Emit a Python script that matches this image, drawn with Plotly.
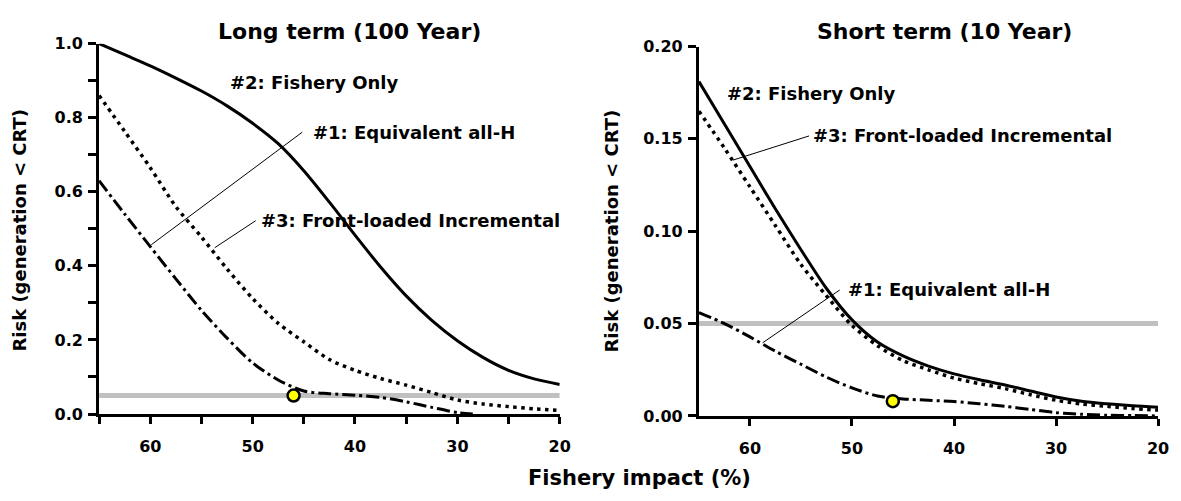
import plotly.graph_objects as go

# ---------------- data ----------------
impact = [65, 62.5, 60, 57.5, 55, 52.5, 50, 47.5, 45, 42.5, 40,
          37.5, 35, 32.5, 30, 27.5, 25, 22.5, 20]

# Long term (100 year)
long_fishery_only = [1.0, 0.97, 0.94, 0.907, 0.872, 0.832, 0.785, 0.73, 0.657, 0.572, 0.483,
                     0.397, 0.319, 0.253, 0.198, 0.153, 0.118, 0.095, 0.08]
long_front_loaded = [0.86, 0.763, 0.665, 0.56, 0.478, 0.392, 0.312, 0.245, 0.195, 0.147, 0.118,
                     0.096, 0.078, 0.058, 0.038, 0.027, 0.02, 0.014, 0.01]
long_equiv_x = [65, 62.5, 60, 57.5, 55, 52.5, 50, 47.5, 45, 42.5, 40, 37.5, 35, 32.5, 30, 28.5]
long_equiv_allH = [0.63, 0.54, 0.452, 0.365, 0.28, 0.205, 0.138, 0.092, 0.062, 0.055, 0.051,
                   0.045, 0.033, 0.018, 0.004, 0.0]

# Short term (10 year)
short_fishery_only = [0.181, 0.158, 0.135, 0.112, 0.090, 0.069, 0.052, 0.040, 0.0325, 0.027, 0.0228,
                      0.0196, 0.0168, 0.0135, 0.0103, 0.008, 0.0066, 0.0055, 0.0047]
short_front_loaded = [0.165, 0.145, 0.124, 0.103, 0.082, 0.065, 0.049, 0.038, 0.030, 0.025, 0.0205,
                      0.0175, 0.0148, 0.0115, 0.0085, 0.0065, 0.0052, 0.004, 0.0032]
short_equiv_allH = [0.056, 0.050, 0.0428, 0.035, 0.028, 0.021, 0.0152, 0.0108, 0.0092, 0.0085, 0.0078,
                    0.0066, 0.0052, 0.0035, 0.0018, 0.0009, 0.0004, 0.0002, 0.0]

threshold_x = [65, 20]
threshold = [0.05, 0.05]

long_point_x, long_point_y = [46], [0.05]
short_point_x, short_point_y = [46], [0.008]

left_yticks = [0, 0.1, 0.2, 0.3, 0.4, 0.5, 0.6, 0.7, 0.8, 0.9, 1.0]
left_ytext = ["0.0", "", "0.2", "", "0.4", "", "0.6", "", "0.8", "", "1.0"]
left_xticks = [65, 60, 55, 50, 45, 40, 35, 30, 25, 20]
left_xtext = ["", "60", "", "50", "", "40", "", "30", "", "20"]
right_yticks = [0, 0.05, 0.10, 0.15, 0.20]
right_ytext = ["0.00", "0.05", "0.10", "0.15", "0.20"]
right_xticks = [60, 50, 40, 30, 20]
right_xtext = ["60", "50", "40", "30", "20"]

# ---------------- figure ----------------
FONT = "DejaVu Sans"
W, H = 1181, 501
BLACK = "#000000"
DOT = "3.5px,4.5px"
DASHDOT = "13px,4px,3px,4px"

fig = go.Figure()


def add_panel(xa, ya, x, fishery, front_x, front, equiv_x, equiv, px, py):
    fig.add_trace(go.Scatter(x=threshold_x, y=threshold, mode="lines",
                             line=dict(color="#c0c0c0", width=5), xaxis=xa, yaxis=ya,
                             showlegend=False, hoverinfo="skip"))
    fig.add_trace(go.Scatter(x=x, y=fishery, mode="lines",
                             line=dict(color=BLACK, width=3, shape="spline", smoothing=0.8),
                             xaxis=xa, yaxis=ya, showlegend=False))
    fig.add_trace(go.Scatter(x=front_x, y=front, mode="lines",
                             line=dict(color=BLACK, width=3.5, dash=DOT, shape="spline", smoothing=0.8),
                             xaxis=xa, yaxis=ya, showlegend=False))
    fig.add_trace(go.Scatter(x=equiv_x, y=equiv, mode="lines",
                             line=dict(color=BLACK, width=3, dash=DASHDOT, shape="spline", smoothing=0.8),
                             xaxis=xa, yaxis=ya, showlegend=False))
    fig.add_trace(go.Scatter(x=px, y=py, mode="markers",
                             marker=dict(color="#ffff00", size=12, line=dict(color=BLACK, width=2.5)),
                             xaxis=xa, yaxis=ya, showlegend=False, cliponaxis=False))


add_panel("x", "y", impact, long_fishery_only, impact, long_front_loaded,
          long_equiv_x, long_equiv_allH, long_point_x, long_point_y)
add_panel("x2", "y2", impact, short_fishery_only, impact, short_front_loaded,
          impact, short_equiv_allH, short_point_x, short_point_y)

axis_common = dict(showline=True, linecolor=BLACK, linewidth=3, ticks="outside",
                   tickcolor=BLACK, tickwidth=3, showgrid=False, zeroline=False,
                   tickfont=dict(family=FONT, size=16, color=BLACK, weight="bold"))

fig.update_layout(
    width=W, height=H, autosize=False,
    margin=dict(l=0, r=0, t=0, b=0),
    paper_bgcolor="white", plot_bgcolor="white",
    xaxis=dict(domain=[100 / W, 565 / W], range=[65, 20], anchor="y",
               tickmode="array", tickvals=left_xticks, ticktext=left_xtext,
               ticklen=7, ticklabelstandoff=9, **axis_common),
    yaxis=dict(domain=[1 - 421 / H, 1 - 36 / H], range=[0, 1.0], anchor="x",
               tickmode="array", tickvals=left_yticks, ticktext=left_ytext,
               ticklen=8, ticklabelstandoff=2, **axis_common),
    xaxis2=dict(domain=[705.5 / W, 1169 / W], range=[65, 20], anchor="y2",
                tickmode="array", tickvals=right_xticks, ticktext=right_xtext,
                ticklen=7, ticklabelstandoff=9, **axis_common),
    yaxis2=dict(domain=[1 - 423 / H, 1 - 39 / H], range=[0, 0.20], anchor="x2",
                tickmode="array", tickvals=right_yticks, ticktext=right_ytext,
                ticklen=8, ticklabelstandoff=2, **axis_common),
)


def pfont(size):
    return dict(family=FONT, size=size, color=BLACK, weight="bold")


annotations = [
    # titles
    dict(text="Long term (100 Year)", x=353 / W, y=1 - 23 / H, xref="paper", yref="paper",
         showarrow=False, font=pfont(22), xanchor="center", yanchor="middle"),
    dict(text="Short term (10 Year)", x=953 / W, y=1 - 23 / H, xref="paper", yref="paper",
         showarrow=False, font=pfont(22), xanchor="center", yanchor="middle"),
    dict(text="Risk (generation &lt; CRT)", x=19.5 / W, y=1 - 230 / H, xref="paper", yref="paper",
         showarrow=False, font=pfont(18), textangle=-90, xanchor="center", yanchor="middle"),
    dict(text="Risk (generation &lt; CRT)", x=617 / W, y=1 - 231 / H, xref="paper", yref="paper",
         showarrow=False, font=pfont(18), textangle=-90, xanchor="center", yanchor="middle"),
    dict(text="Fishery impact (%)", x=646 / W, y=1 - 488 / H, xref="paper", yref="paper",
         showarrow=False, font=pfont(21), xanchor="center", yanchor="middle"),
    # left panel labels
    dict(text="#2: Fishery Only", x=52.4, y=0.894, xref="x", yref="y",
         showarrow=False, font=pfont(18), xanchor="left", yanchor="middle"),
    dict(text="#1: Equivalent all-H", x=44.3, y=0.761, xref="x", yref="y",
         showarrow=False, font=pfont(18), xanchor="left", yanchor="middle"),
    dict(text="#3: Front-loaded Incremental", x=49.4, y=0.522, xref="x", yref="y",
         showarrow=False, font=pfont(18), xanchor="left", yanchor="middle"),
    # right panel labels
    dict(text="#2: Fishery Only", x=62.4, y=0.1745, xref="x2", yref="y2",
         showarrow=False, font=pfont(18), xanchor="left", yanchor="middle"),
    dict(text="#3: Front-loaded Incremental", x=54.0, y=0.1516, xref="x2", yref="y2",
         showarrow=False, font=pfont(18), xanchor="left", yanchor="middle"),
    dict(text="#1: Equivalent all-H", x=50.6, y=0.0682, xref="x2", yref="y2",
         showarrow=False, font=pfont(18), xanchor="left", yanchor="middle"),
]
fig.update_layout(annotations=annotations)

leader = dict(color=BLACK, width=1)
fig.update_layout(shapes=[
    dict(type="line", xref="x", yref="y", x0=59.9, y0=0.457, x1=45.15, y1=0.761, line=leader),
    dict(type="line", xref="x", yref="y", x0=53.7, y0=0.449, x1=49.7, y1=0.522, line=leader),
    dict(type="line", xref="x2", yref="y2", x0=61.66, y0=0.1385, x1=54.2, y1=0.1516, line=leader),
    dict(type="line", xref="x2", yref="y2", x0=58.76, y0=0.0396, x1=51.2, y1=0.0682, line=leader),
])

fig.write_html("out.html")
